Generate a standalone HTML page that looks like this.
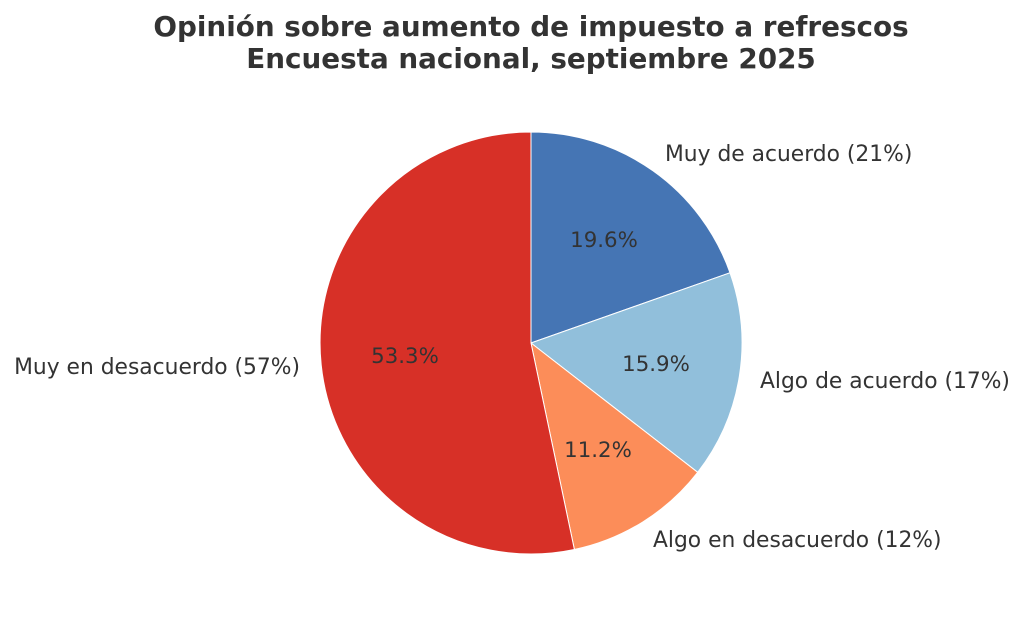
<!DOCTYPE html>
<html><head><meta charset="utf-8"><style>body{margin:0;background:#fff}</style></head>
<body>
<svg width="1024" height="622" xmlns="http://www.w3.org/2000/svg" font-family="DejaVu Sans, Liberation Sans, sans-serif" fill="#333">
<text x="531" y="36" text-anchor="middle" font-size="27.8" font-weight="bold">Opinión sobre aumento de impuesto a refrescos</text>
<text x="531" y="68" text-anchor="middle" font-size="27.8" font-weight="bold">Encuesta nacional, septiembre 2025</text>
<g stroke="#fff" stroke-width="1">
<path d="M531,343 L531,132 A211,211 0 0 1 730,272.8 Z" fill="#4575b4"/>
<path d="M531,343 L730,272.8 A211,211 0 0 1 697.7,472.3 Z" fill="#91bfdb"/>
<path d="M531,343 L697.7,472.3 A211,211 0 0 1 574.4,549.5 Z" fill="#fc8d59"/>
<path d="M531,343 L574.4,549.5 A211,211 0 1 1 531,132 Z" fill="#d73027"/>
</g>
<g font-size="21.3">
<text x="604" y="247" text-anchor="middle">19.6%</text>
<text x="656" y="371" text-anchor="middle">15.9%</text>
<text x="598" y="457" text-anchor="middle">11.2%</text>
<text x="405" y="363" text-anchor="middle">53.3%</text>
</g>
<g font-size="21.8">
<text x="665" y="161">Muy de acuerdo (21%)</text>
<text x="760" y="388">Algo de acuerdo (17%)</text>
<text x="653" y="547">Algo en desacuerdo (12%)</text>
<text x="300" y="374" text-anchor="end">Muy en desacuerdo (57%)</text>
</g>
</svg>
</body></html>
